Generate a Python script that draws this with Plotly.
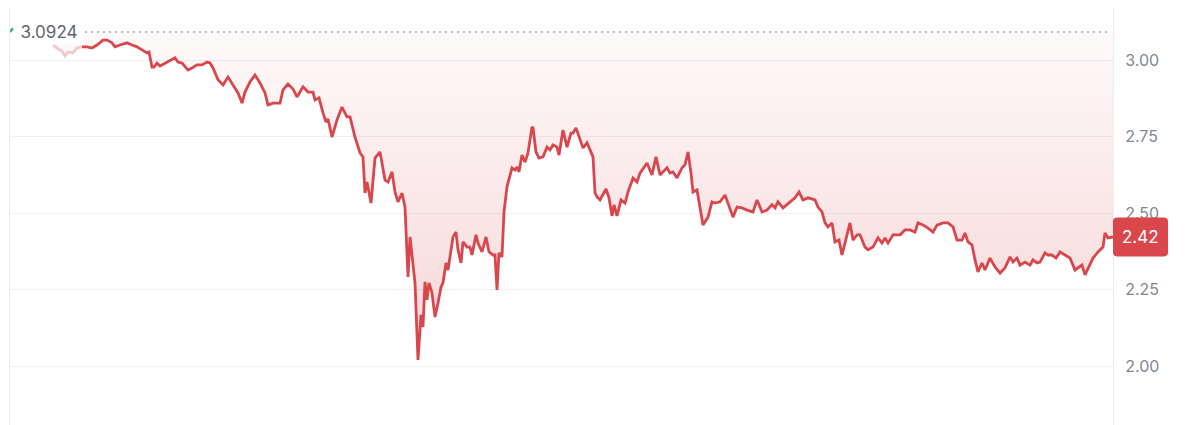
import plotly.graph_objects as go

# ---- data (time offset in hours, price) ----
start_hours = [0, 3]
start_prices = [3.0924, 3.105]

hours = [
    43, 48, 52, 55, 58, 63,
    67, 72, 77, 82, 87, 93, 97, 102, 105, 110,
    117, 122, 127, 132, 137, 139, 142, 144, 147, 150,
    155, 160, 165, 168, 172, 175, 178, 182, 187, 192,
    197, 200, 203, 208, 213, 218, 223, 228, 232, 235,
    240, 245, 250, 255, 258, 263, 270, 273, 278, 283,
    287, 293, 298, 303, 305, 309, 313, 316, 318, 322,
    327, 332, 337, 340, 345, 350, 353, 355, 357, 361,
    365, 370, 375, 378, 382, 385, 388, 392, 395, 398,
    400, 402, 405, 408, 411, 413, 415, 417, 419, 422,
    425, 428, 431, 433, 436, 438, 443, 446, 448, 451,
    453, 457, 460, 462, 466, 468, 472, 476, 479, 483,
    485, 487, 489, 492, 494, 497, 499, 502, 505, 507,
    509, 512, 515, 518, 522, 523, 526, 529, 533, 537,
    540, 543, 547, 549, 553, 557, 561, 563, 566, 570,
    573, 577, 583, 585, 587, 590, 596, 599, 602, 604,
    607, 611, 615, 618, 623, 627, 630, 637, 642, 646,
    650, 653, 657, 660, 663, 667, 672, 675, 678, 681,
    683, 687, 689, 692, 693, 698, 702, 705, 710, 715,
    720, 723, 727, 732, 737, 743, 747, 752, 757, 762,
    765, 768, 773, 780, 785, 789, 793, 798, 805, 808,
    812, 815, 818, 822, 825, 829, 832, 837, 840, 843,
    847, 850, 855, 858, 863, 868, 872, 875, 878, 883,
    890, 895, 900, 905, 908, 913, 918, 923, 927, 933,
    938, 943, 947, 952, 955, 958, 962, 965, 968, 972,
    975, 980, 985, 990, 995, 1000, 1003, 1007, 1010, 1015,
    1020, 1023, 1027, 1030, 1035, 1038, 1042, 1046, 1050, 1055,
    1060, 1065, 1068, 1072, 1075, 1079, 1083, 1088, 1093, 1095,
    1098, 1103,
]

prices = [
    3.050, 3.037, 3.030, 3.014, 3.027, 3.024,
    3.040, 3.044, 3.044, 3.040, 3.050, 3.066, 3.066, 3.057, 3.044, 3.050,
    3.057, 3.050, 3.044, 3.034, 3.024, 3.027, 2.978, 2.978, 2.991, 2.981,
    2.991, 2.999, 3.008, 2.994, 2.991, 2.978, 2.968, 2.975, 2.985, 2.985,
    2.994, 2.991, 2.975, 2.936, 2.919, 2.945, 2.919, 2.893, 2.860, 2.896,
    2.929, 2.952, 2.926, 2.893, 2.854, 2.860, 2.860, 2.903, 2.922, 2.906,
    2.880, 2.913, 2.896, 2.896, 2.870, 2.877, 2.828, 2.798, 2.808, 2.749,
    2.805, 2.847, 2.815, 2.815, 2.749, 2.697, 2.684, 2.566, 2.602, 2.533,
    2.680, 2.700, 2.608, 2.602, 2.635, 2.569, 2.537, 2.566, 2.520, 2.291,
    2.422, 2.357, 2.272, 2.020, 2.167, 2.128, 2.275, 2.216, 2.272, 2.239,
    2.160, 2.206, 2.258, 2.272, 2.337, 2.314, 2.422, 2.438, 2.380, 2.337,
    2.406, 2.389, 2.389, 2.363, 2.429, 2.402, 2.373, 2.422, 2.373, 2.363,
    2.363, 2.249, 2.370, 2.357, 2.504, 2.586, 2.608, 2.648, 2.641, 2.651,
    2.635, 2.690, 2.667, 2.697, 2.782, 2.779, 2.700, 2.680, 2.684, 2.716,
    2.707, 2.723, 2.716, 2.690, 2.772, 2.716, 2.762, 2.762, 2.779, 2.739,
    2.713, 2.730, 2.684, 2.566, 2.553, 2.543, 2.579, 2.550, 2.491, 2.527,
    2.491, 2.543, 2.533, 2.569, 2.615, 2.602, 2.631, 2.664, 2.625, 2.684,
    2.625, 2.635, 2.648, 2.631, 2.635, 2.615, 2.648, 2.658, 2.700, 2.631,
    2.569, 2.576, 2.533, 2.478, 2.461, 2.487, 2.537, 2.533, 2.537, 2.559,
    2.510, 2.487, 2.520, 2.517, 2.510, 2.504, 2.543, 2.504, 2.510, 2.527,
    2.517, 2.537, 2.517, 2.537, 2.550, 2.569, 2.543, 2.550, 2.543, 2.520,
    2.504, 2.468, 2.455, 2.468, 2.406, 2.412, 2.363, 2.429, 2.468, 2.412,
    2.429, 2.429, 2.389, 2.380, 2.389, 2.419, 2.402, 2.419, 2.402, 2.429,
    2.429, 2.445, 2.445, 2.438, 2.468, 2.461, 2.451, 2.438, 2.461, 2.468,
    2.468, 2.455, 2.412, 2.412, 2.435, 2.406, 2.396, 2.347, 2.308, 2.337,
    2.314, 2.353, 2.324, 2.304, 2.321, 2.357, 2.340, 2.353, 2.330, 2.340,
    2.330, 2.347, 2.337, 2.340, 2.370, 2.363, 2.363, 2.353, 2.373, 2.363,
    2.353, 2.314, 2.321, 2.330, 2.298, 2.324, 2.353, 2.373, 2.389, 2.435,
    2.419, 2.422,
]

baseline_price = 3.0924
y_ticks = [2.00, 2.25, 2.50, 2.75, 3.00]
y_range = [1.807, 3.171]
x_range = [0, 1103]
faded_until = 72  # part of the line that sits under the reference-price label

RED = "#d9464b"
RED_FADED = "rgba(217,70,75,0.28)"
GREEN = "#3bb273"
FONT = "Inter"

fig = go.Figure()

# invisible baseline (reference price) for the fill
fig.add_trace(go.Scatter(
    x=[hours[0], hours[-1]], y=[baseline_price, baseline_price],
    mode="lines", line=dict(width=0, color="rgba(0,0,0,0)"),
    hoverinfo="skip", showlegend=False,
))

# gradient fill between price and baseline
fig.add_trace(go.Scatter(
    x=hours, y=prices, mode="lines",
    line=dict(width=0, color="rgba(0,0,0,0)"),
    fill="tonexty",
    fillgradient=dict(
        type="vertical",
        colorscale=[[0, "rgba(217,70,75,0.03)"], [1, "rgba(217,70,75,0.22)"]],
        start=baseline_price, stop=min(prices),
    ),
    hoverinfo="skip", showlegend=False,
))

n_fade = sum(1 for h in hours if h <= faded_until)

# faded start of the line
fig.add_trace(go.Scatter(
    x=hours[:n_fade], y=prices[:n_fade], mode="lines",
    line=dict(color=RED_FADED, width=2.8),
    hoverinfo="skip", showlegend=False,
))

# main price line
fig.add_trace(go.Scatter(
    x=hours[n_fade - 1:], y=prices[n_fade - 1:], mode="lines",
    line=dict(color=RED, width=2.8),
    hoverinfo="skip", showlegend=False,
))

# small green start tick
fig.add_trace(go.Scatter(
    x=start_hours, y=start_prices, mode="lines",
    line=dict(color=GREEN, width=2.4),
    hoverinfo="skip", showlegend=False,
))

last_price = prices[-1]

shapes = [
    # dotted reference line
    dict(type="line", xref="paper", yref="y", x0=0.068, x1=0.9955,
         y0=baseline_price, y1=baseline_price,
         line=dict(color="#a3a9b3", width=1.5, dash="2px,4px"), layer="above"),
    # rounded last price tag
    dict(type="path", xref="paper", yref="y",
         xsizemode="pixel", ysizemode="pixel", xanchor=1, yanchor=last_price,
         path="M4,-19.5 L51,-19.5 Q55,-19.5 55,-15.5 L55,15.5 Q55,19.5 51,19.5 "
              "L4,19.5 Q0,19.5 0,15.5 L0,-15.5 Q0,-19.5 4,-19.5 Z",
         fillcolor=RED, line=dict(width=0), layer="above"),
]

annotations = [
    dict(xref="paper", yref="y", x=0.0036, y=baseline_price,
         xanchor="left", yanchor="middle", showarrow=False,
         text=f"{baseline_price:.4f}", width=64, align="center",
         bgcolor="rgba(255,255,255,0.85)", borderpad=2,
         font=dict(family=FONT, size=17, color="#5b6577")),
    dict(xref="paper", yref="y", x=1, y=last_price, xshift=27.5,
         xanchor="center", yanchor="middle", showarrow=False,
         text=f"{last_price:.2f}",
         font=dict(family=FONT, size=17, color="white")),
]

fig.update_layout(
    width=1192, height=417,
    margin=dict(l=2, r=87, t=0, b=0),
    paper_bgcolor="white", plot_bgcolor="white",
    hovermode=False,
    shapes=shapes, annotations=annotations,
    xaxis=dict(range=x_range, visible=False, fixedrange=True),
    yaxis=dict(
        side="right", range=y_range, tickvals=y_ticks, tickformat=".2f",
        showgrid=True, gridcolor="#eef0f3", gridwidth=1,
        zeroline=False, showline=True, mirror=True, linecolor="#eceef1", linewidth=1,
        ticks="", ticklabelstandoff=8,
        tickfont=dict(family=FONT, size=16, color="#7e8798"),
        fixedrange=True,
    ),
)

fig.write_html("out.html")
